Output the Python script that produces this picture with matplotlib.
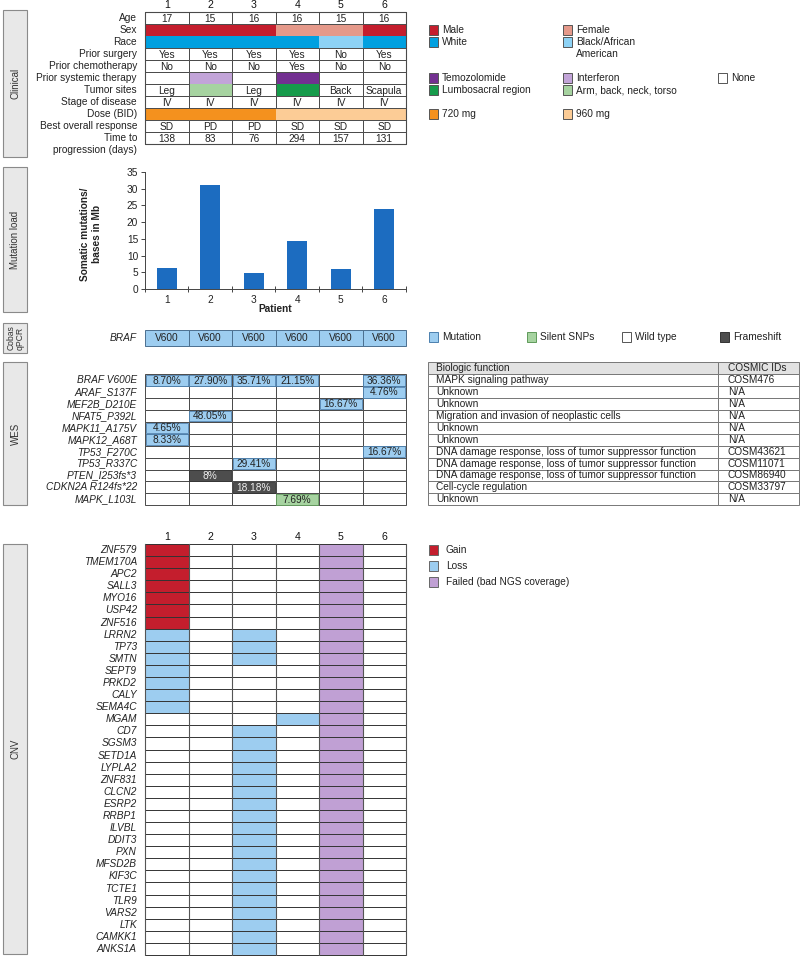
import matplotlib
matplotlib.use('Agg')
import matplotlib.pyplot as plt
from matplotlib.patches import Rectangle

plt.rcParams['font.family'] = ['Liberation Sans', 'DejaVu Sans']

# ---------------- data ----------------
patients = [1, 2, 3, 4, 5, 6]

clinical_labels = ['Age', 'Sex', 'Race', 'Prior surgery', 'Prior chemotherapy',
                   'Prior systemic therapy', 'Tumor sites', 'Stage of disease',
                   'Dose (BID)', 'Best overall response', 'Time to']
age = ['17', '15', '16', '16', '15', '16']
sex = ['Male', 'Male', 'Male', 'Female', 'Female', 'Male']
race = ['White', 'White', 'White', 'White', 'Black/African\nAmerican', 'White']
prior_surgery = ['Yes', 'Yes', 'Yes', 'Yes', 'No', 'Yes']
prior_chemo = ['No', 'No', 'No', 'Yes', 'No', 'No']
prior_systemic = ['None', 'Interferon', 'None', 'Temozolomide', 'None', 'None']
tumor_sites = ['Leg', 'Arm, back, neck, torso', 'Leg', 'Lumbosacral region', 'Back', 'Scapula']
stage = ['IV', 'IV', 'IV', 'IV', 'IV', 'IV']
dose = ['720 mg', '720 mg', '720 mg', '960 mg', '960 mg', '960 mg']
best_response = ['SD', 'PD', 'PD', 'SD', 'SD', 'SD']
time_to_progression = ['138', '83', '76', '294', '157', '131']

clinical_colors = {'Male': '#c41e2d', 'Female': '#e5998a',
                   'White': '#00a0e0', 'Black/African\nAmerican': '#8dd2f5',
                   'Temozolomide': '#733091', 'Interferon': '#c2a4d8', 'None': '#ffffff',
                   'Lumbosacral region': '#169b4b', 'Arm, back, neck, torso': '#a6d3a0',
                   '720 mg': '#f4911e', '960 mg': '#fccc96'}
clinical_legend = {1: ['Male', 'Female'],
                   2: ['White', 'Black/African\nAmerican'],
                   5: ['Temozolomide', 'Interferon', 'None'],
                   6: ['Lumbosacral region', 'Arm, back, neck, torso'],
                   8: ['720 mg', '960 mg']}

mutation_load = [6.3, 31.2, 4.9, 14.3, 5.9, 23.9]

cobas_braf = ['V600', 'V600', 'V600', 'V600', 'V600', 'V600']

wes_genes = ['BRAF V600E', 'ARAF_S137F', 'MEF2B_D210E', 'NFAT5_P392L', 'MAPK11_A175V',
             'MAPK12_A68T', 'TP53_F270C', 'TP53_R337C', 'PTEN_I253fs*3',
             'CDKN2A R124fs*22', 'MAPK_L103L']
wes_vaf = [['8.70%', '27.90%', '35.71%', '21.15%', '', '36.36%'],
           ['', '', '', '', '', '4.76%'],
           ['', '', '', '', '16.67%', ''],
           ['', '48.05%', '', '', '', ''],
           ['4.65%', '', '', '', '', ''],
           ['8.33%', '', '', '', '', ''],
           ['', '', '', '', '', '16.67%'],
           ['', '', '29.41%', '', '', ''],
           ['', '8%', '', '', '', ''],
           ['', '', '18.18%', '', '', ''],
           ['', '', '', '7.69%', '', '']]
wes_class = ['Mutation'] * 8 + ['Frameshift', 'Frameshift', 'Silent SNPs']
wes_function = ['MAPK signaling pathway', 'Unknown', 'Unknown',
                'Migration and invasion of neoplastic cells', 'Unknown', 'Unknown',
                'DNA damage response, loss of tumor suppressor function',
                'DNA damage response, loss of tumor suppressor function',
                'DNA damage response, loss of tumor suppressor function',
                'Cell-cycle regulation', 'Unknown']
wes_cosmic = ['COSM476', 'N/A', 'N/A', 'N/A', 'N/A', 'N/A', 'COSM43621',
              'COSM11071', 'COSM86940', 'COSM33797', 'N/A']
mut_colors = {'Mutation': '#9dcdf0', 'Silent SNPs': '#a6d3a0',
              'Wild type': '#ffffff', 'Frameshift': '#4d4d4d'}
mut_edges = {'Mutation': '#4b7fae', 'Silent SNPs': '#5f9a5a',
             'Wild type': '#555555', 'Frameshift': '#333333'}

cnv_genes = ['ZNF579', 'TMEM170A', 'APC2', 'SALL3', 'MYO16', 'USP42', 'ZNF516',
             'LRRN2', 'TP73', 'SMTN', 'SEPT9', 'PRKD2', 'CALY', 'SEMA4C', 'MGAM',
             'CD7', 'SGSM3', 'SETD1A', 'LYPLA2', 'ZNF831', 'CLCN2', 'ESRP2', 'RRBP1',
             'ILVBL', 'DDIT3', 'PXN', 'MFSD2B', 'KIF3C', 'TCTE1', 'TLR9', 'VARS2',
             'LTK', 'CAMKK1', 'ANKS1A']
cnv_gain = {1: ['ZNF579', 'TMEM170A', 'APC2', 'SALL3', 'MYO16', 'USP42', 'ZNF516']}
cnv_loss = {1: ['LRRN2', 'TP73', 'SMTN', 'SEPT9', 'PRKD2', 'CALY', 'SEMA4C'],
            3: ['LRRN2', 'TP73', 'SMTN', 'CD7', 'SGSM3', 'SETD1A', 'LYPLA2', 'ZNF831',
                'CLCN2', 'ESRP2', 'RRBP1', 'ILVBL', 'DDIT3', 'PXN', 'MFSD2B', 'KIF3C',
                'TCTE1', 'TLR9', 'VARS2', 'LTK', 'CAMKK1', 'ANKS1A'],
            4: ['MGAM']}
cnv_failed = [5]
cnv_colors = {'Gain': '#c41e2d', 'Loss': '#9dcdf0', 'Failed (bad NGS coverage)': '#c0a0d4'}

# ---------------- layout ----------------
FS = 7.3
TXT = '#222222'
GRID = '#4a4a4a'
X0, CW = 145.0, 43.5
NC = len(patients)
LAB_X = 137.0

fig = plt.figure(figsize=(8.0, 9.56), dpi=100)
ov = fig.add_axes([0, 0, 1, 1])
ov.set_xlim(0, 800)
ov.set_ylim(956, 0)
ov.axis('off')


def cx(i):
    return X0 + i * CW


def side_box(y0, y1, label, fs=7.0):
    ov.add_patch(Rectangle((3, y0), 24, y1 - y0, fc='#e8e8e8', ec='#8a8a8a', lw=0.8, zorder=1))
    ov.text(15.5, (y0 + y1) / 2, label, rotation=90, ha='center', va='center',
            fontsize=fs, color='#333333', linespacing=0.95)


def legend_item(x, y, color, label, tx=13, ec='#555555'):
    ov.add_patch(Rectangle((x, y - 4.6), 9.2, 9.2, fc=color, ec=ec, lw=0.7, zorder=3))
    if '\n' in label:
        ov.text(x + tx, y - 5.5, label, ha='left', va='top', fontsize=FS, color=TXT, linespacing=1.35)
    else:
        ov.text(x + tx, y, label, ha='left', va='center', fontsize=FS, color=TXT)


# Side boxes
side_box(10, 157, 'Clinical')
side_box(167, 312, 'Mutation load')
side_box(323, 353, 'Cobas\nqPCR', fs=6.2)
side_box(362, 505, 'WES')
side_box(544, 954, 'CNV')

# Column headers
for i, p in enumerate(patients):
    ov.text(cx(i) + CW / 2, 5, str(p), ha='center', va='center', fontsize=FS + 0.3, color='#111111')
    ov.text(cx(i) + CW / 2, 537, str(p), ha='center', va='center', fontsize=FS + 0.3, color='#111111')

# ---------------- Clinical table ----------------
CL_Y0, CL_RH = 12.0, 12.0
clinical_rows = [age, sex, race, prior_surgery, prior_chemo, prior_systemic,
                 tumor_sites, stage, dose, best_response, time_to_progression]
for r, (lab, vals) in enumerate(zip(clinical_labels, clinical_rows)):
    y = CL_Y0 + r * CL_RH
    for c, v in enumerate(vals):
        x = cx(c)
        if v in clinical_colors and v != 'None':
            ov.add_patch(Rectangle((x, y), CW, CL_RH, fc=clinical_colors[v], ec='none', zorder=1))
        else:
            ov.add_patch(Rectangle((x, y), CW, CL_RH, fc='white', ec=GRID, lw=0.7, zorder=2))
            if v not in clinical_colors:
                ov.text(x + CW / 2, y + CL_RH / 2 + 0.5, v, ha='center', va='center',
                        fontsize=FS, color=TXT, zorder=4)
    ov.text(LAB_X, y + CL_RH / 2, lab, ha='right', va='center', fontsize=FS, color=TXT)
ov.text(LAB_X, CL_Y0 + len(clinical_rows) * CL_RH + 6, 'progression (days)', ha='right',
        va='center', fontsize=FS, color=TXT)
ov.add_patch(Rectangle((X0, CL_Y0), CW * NC, CL_RH * len(clinical_rows), fc='none',
                       ec=GRID, lw=0.8, zorder=3))

LEG_X = [429, 563, 718]
for r, entries in clinical_legend.items():
    y = CL_Y0 + r * CL_RH + CL_RH / 2
    for k, lab in enumerate(entries):
        legend_item(LEG_X[k], y, clinical_colors[lab], lab)

# ---------------- Mutation load bar chart ----------------
ax = fig.add_axes([145 / 800, 1 - 289 / 956, 261 / 800, (289 - 172) / 956])
ax.bar(patients, mutation_load, width=0.47, color='#1c6cc0', zorder=2)
ax.set_xlim(0.5, 6.5)
ax.set_ylim(0, 35)
ax.set_yticks(range(0, 36, 5))
ax.set_xticks(patients)
ax.set_xticks([p + 0.5 for p in [0] + patients], minor=True)
ax.tick_params(axis='x', which='major', length=0, labelsize=FS, labelcolor=TXT, pad=4)
ax.tick_params(axis='x', which='minor', length=5, direction='inout', width=0.7, color='#444444')
ax.tick_params(axis='y', length=3, width=0.7, labelsize=FS, labelcolor=TXT, color='#444444', pad=2)
for s in ['top', 'right']:
    ax.spines[s].set_visible(False)
for s in ['left', 'bottom']:
    ax.spines[s].set_color('#444444')
    ax.spines[s].set_linewidth(0.7)
ax.patch.set_alpha(0)
ax.set_ylabel('Somatic mutations/\nbases in Mb', fontsize=FS, fontweight='bold', color=TXT,
              linespacing=1.3)
ax.yaxis.set_label_coords(-0.165, 0.47)
ax.set_xlabel('Patient', fontsize=FS, fontweight='bold', color=TXT)
ax.xaxis.set_label_coords(0.5, -0.13)

# ---------------- Cobas qPCR ----------------
CB_Y0, CB_H = 329.5, 16.5
for c, v in enumerate(cobas_braf):
    x = cx(c)
    ov.add_patch(Rectangle((x, CB_Y0), CW, CB_H, fc=mut_colors['Mutation'], ec='#4b6f8f', lw=0.7, zorder=2))
    ov.text(x + CW / 2, CB_Y0 + CB_H / 2, v, ha='center', va='center', fontsize=FS, color=TXT, zorder=4)
ov.text(LAB_X, CB_Y0 + CB_H / 2, 'BRAF', ha='right', va='center', fontsize=FS, color=TXT, style='italic')

wes_leg = [('Mutation', 429), ('Silent SNPs', 527), ('Wild type', 622), ('Frameshift', 720)]
for lab, x in wes_leg:
    legend_item(x, 337, mut_colors[lab], lab, tx=13, ec=mut_edges[lab])

# ---------------- WES ----------------
W_Y0, W_RH = 374.3, 11.9
for r, gene in enumerate(wes_genes):
    y = W_Y0 + r * W_RH
    for c in range(NC):
        x = cx(c)
        ov.add_patch(Rectangle((x, y), CW, W_RH, fc='white', ec=GRID, lw=0.7, zorder=1))
        v = wes_vaf[r][c]
        if v:
            cls = wes_class[r]
            ov.add_patch(Rectangle((x + 0.6, y + 0.6), CW - 1.2, W_RH - 1.2, fc=mut_colors[cls],
                                   ec=mut_edges[cls], lw=0.6, zorder=2))
            tc = '#f0f0f0' if cls == 'Frameshift' else TXT
            ov.text(x + CW / 2, y + W_RH / 2 + 0.3, v, ha='center', va='center', fontsize=FS,
                    color=tc, zorder=4)
    ov.text(LAB_X, y + W_RH / 2, gene, ha='right', va='center', fontsize=FS, color=TXT, style='italic')

# Biologic function table
BT_X0, BT_X1, BT_X2 = 428.0, 718.0, 799.0
BT_Y0 = W_Y0 - W_RH
ov.add_patch(Rectangle((BT_X0, BT_Y0), BT_X1 - BT_X0, W_RH, fc='#e2e2e2', ec='#777777', lw=0.7, zorder=1))
ov.add_patch(Rectangle((BT_X1, BT_Y0), BT_X2 - BT_X1, W_RH, fc='#e2e2e2', ec='#777777', lw=0.7, zorder=1))
ov.text(BT_X0 + 8, BT_Y0 + W_RH / 2, 'Biologic function', ha='left', va='center', fontsize=FS, color=TXT)
ov.text(BT_X1 + 10, BT_Y0 + W_RH / 2, 'COSMIC IDs', ha='left', va='center', fontsize=FS, color=TXT)
for r, (fn, cid) in enumerate(zip(wes_function, wes_cosmic)):
    y = W_Y0 + r * W_RH
    ov.add_patch(Rectangle((BT_X0, y), BT_X1 - BT_X0, W_RH, fc='white', ec='#777777', lw=0.7, zorder=1))
    ov.add_patch(Rectangle((BT_X1, y), BT_X2 - BT_X1, W_RH, fc='white', ec='#777777', lw=0.7, zorder=1))
    ov.text(BT_X0 + 8, y + W_RH / 2, fn, ha='left', va='center', fontsize=FS, color=TXT)
    ov.text(BT_X1 + 10, y + W_RH / 2, cid, ha='left', va='center', fontsize=FS, color=TXT)

# ---------------- CNV ----------------
C_Y0 = 544.0
C_RH = (955.0 - C_Y0) / len(cnv_genes)
for r, gene in enumerate(cnv_genes):
    y = C_Y0 + r * C_RH
    for c, p in enumerate(patients):
        x = cx(c)
        col = None
        if p in cnv_failed:
            col = cnv_colors['Failed (bad NGS coverage)']
        elif gene in cnv_gain.get(p, []):
            col = cnv_colors['Gain']
        elif gene in cnv_loss.get(p, []):
            col = cnv_colors['Loss']
        if col:
            ov.add_patch(Rectangle((x, y), CW, C_RH, fc=col, ec='none', zorder=1))
    ov.text(LAB_X, y + C_RH / 2, gene, ha='right', va='center', fontsize=FS, color=TXT, style='italic')
for r in range(len(cnv_genes) + 1):
    y = C_Y0 + r * C_RH
    ov.plot([X0, X0 + NC * CW], [y, y], color='#333333', lw=0.7, zorder=3)
for c in range(NC + 1):
    ov.plot([cx(c), cx(c)], [C_Y0, C_Y0 + len(cnv_genes) * C_RH], color='#555555', lw=0.8, zorder=3)

for k, (lab, col) in enumerate(cnv_colors.items()):
    legend_item(429, 550 + 16 * k, col, lab, tx=17, ec='#666666')

fig.savefig('out.png', dpi=100)
